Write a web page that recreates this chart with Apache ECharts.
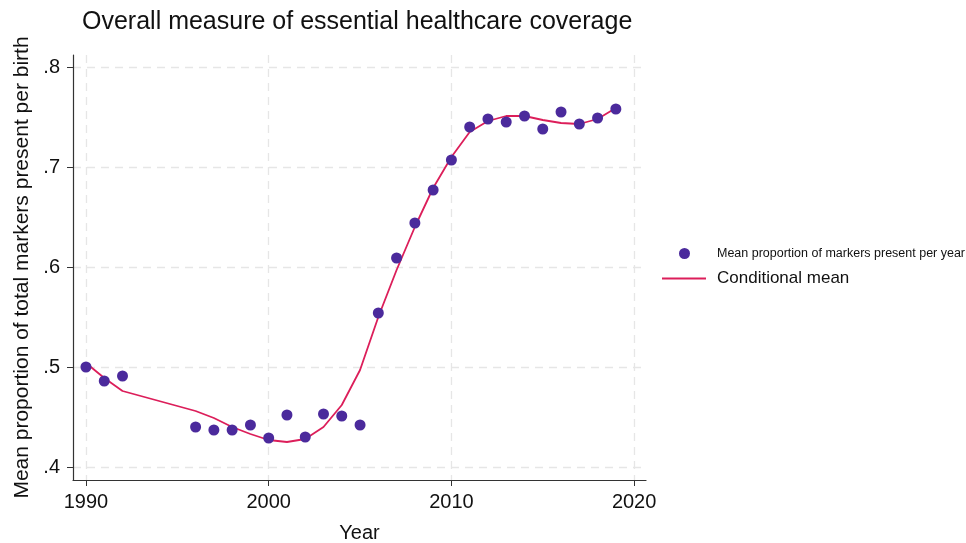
<!DOCTYPE html>
<html>
<head>
<meta charset="utf-8">
<script src="https://cdn.jsdelivr.net/npm/echarts@6/dist/echarts.min.js"></script>
<style>
  html, body { margin: 0; padding: 0; background: #fff; }
  #chart { width: 966px; height: 543px; }
</style>
</head>
<body>
<div id="chart"></div>
<script>
// Yearly mean proportion of essential healthcare markers present per birth
const years = [1990, 1991, 1992, 1996, 1997, 1998, 1999, 2000, 2001, 2002, 2003, 2004, 2005,
               2006, 2007, 2008, 2009, 2010, 2011, 2012, 2013, 2014, 2015, 2016, 2017, 2018, 2019];
const yearlyMean = [0.500, 0.486, 0.491, 0.440, 0.437, 0.437, 0.442, 0.429, 0.452, 0.430, 0.453, 0.451, 0.442,
                    0.554, 0.609, 0.644, 0.677, 0.707, 0.740, 0.748, 0.745, 0.751, 0.738, 0.755, 0.743, 0.749, 0.758];
// Smoothed conditional mean evaluated at the same years
const conditionalMean = [0.504, 0.489, 0.476, 0.456, 0.449, 0.440, 0.433, 0.427, 0.425, 0.428, 0.440, 0.462, 0.497,
                         0.550, 0.597, 0.640, 0.679, 0.710, 0.735, 0.746, 0.751, 0.751, 0.747, 0.744, 0.743, 0.748, 0.759];
const xTicks = [1990, 2000, 2010, 2020];
const yTicks = [0.4, 0.5, 0.6, 0.7, 0.8];

const scatterName = 'Mean proportion of markers present per year';
const lineName = 'Conditional mean';
const FONT = '"Liberation Sans", Arial, Helvetica, sans-serif';
const dotColor = '#4B2A9C';
const lineColor = '#DC1E5A';
const axisColor = '#333333';
const gridColor = '#E6E6E6';

const chart = echarts.init(document.getElementById('chart'), null, { renderer: 'canvas' });

chart.setOption({
  animation: false,
  backgroundColor: '#ffffff',
  textStyle: { fontFamily: FONT },
  title: {
    text: 'Overall measure of essential healthcare coverage',
    left: 77, top: 5,
    textStyle: { fontFamily: FONT, fontSize: 25, fontWeight: 'normal', color: '#111' }
  },
  legend: [
    {
      data: [{ name: scatterName, icon: 'circle' }],
      left: 679, top: 247, padding: 0,
      itemWidth: 11, itemHeight: 11, itemGap: 0,
      textStyle: { fontFamily: FONT, fontSize: 12.5, color: '#111', padding: [0, 0, 0, 22] },
      selectedMode: false
    },
    {
      // plain stroke as the key for the smoothed line
      data: [{ name: lineName, icon: 'path://M0,0 H44 V2 H0 Z' }],
      left: 662, top: 270, padding: 0,
      itemWidth: 44, itemHeight: 2, itemGap: 0,
      textStyle: { fontFamily: FONT, fontSize: 17, color: '#111', padding: [0, 0, 0, 6] },
      selectedMode: false
    }
  ],
  grid: { left: 73, right: 320, top: 55, bottom: 63, containLabel: false, outerBoundsMode: 'none' },
  xAxis: {
    type: 'value',
    min: 1989.29, max: 2020.65,
    name: 'Year', nameLocation: 'middle', nameGap: 43,
    nameTextStyle: { fontFamily: FONT, fontSize: 20, color: '#111' },
    axisLine: { show: true, onZero: false, lineStyle: { color: axisColor, width: 1.2 } },
    axisTick: { show: true, length: 6, customValues: xTicks, lineStyle: { color: axisColor } },
    axisLabel: {
      customValues: xTicks, fontFamily: FONT, fontSize: 20, color: '#111', margin: 12,
      formatter: v => String(Math.round(v))
    },
    splitLine: { show: true, lineStyle: { color: gridColor, type: [8, 6], width: 1.3 } }
  },
  yAxis: {
    type: 'value',
    min: 0.387, max: 0.812,
    name: 'Mean proportion of total markers present per birth',
    nameLocation: 'middle', nameGap: 39,
    nameTextStyle: { fontFamily: FONT, fontSize: 21, color: '#111' },
    axisLine: { show: true, onZero: false, lineStyle: { color: axisColor, width: 1.2 } },
    axisTick: { show: true, length: 6, customValues: yTicks, lineStyle: { color: axisColor } },
    axisLabel: {
      customValues: yTicks, fontFamily: FONT, fontSize: 20, color: '#111', margin: 13,
      formatter: v => v.toFixed(1).replace(/^0/, '')
    },
    splitLine: { show: true, lineStyle: { color: gridColor, type: [8, 6], width: 1.3 } }
  },
  series: [
    {
      name: lineName,
      type: 'line',
      data: years.map((y, i) => [y, conditionalMean[i]]),
      symbol: 'none',
      showSymbol: false,
      smooth: false,
      lineStyle: { color: lineColor, width: 1.8 },
      itemStyle: { color: lineColor },
      z: 2
    },
    {
      name: scatterName,
      type: 'scatter',
      data: years.map((y, i) => [y, yearlyMean[i]]),
      symbolSize: 11,
      itemStyle: { color: dotColor, opacity: 1 },
      z: 3
    }
  ]
});
</script>
</body>
</html>
